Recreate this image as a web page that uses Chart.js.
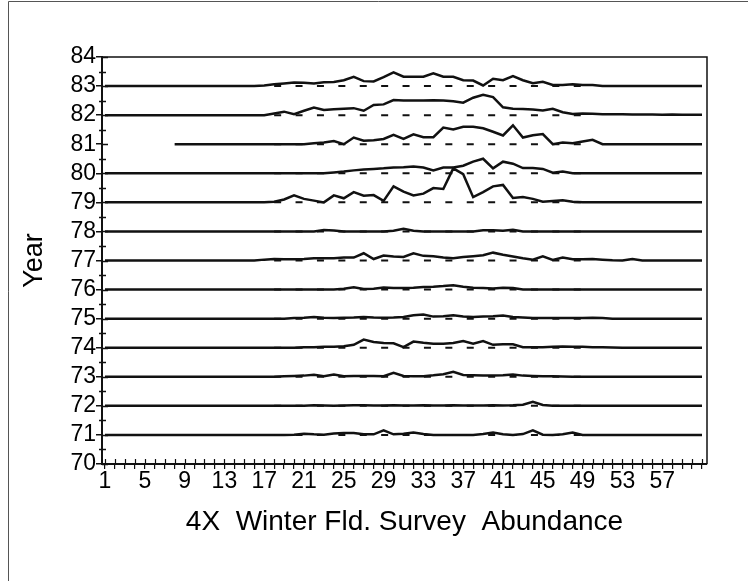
<!DOCTYPE html>
<html>
<head>
<meta charset="utf-8">
<title>4X Winter Fld. Survey Abundance</title>
<script src="https://cdn.jsdelivr.net/npm/chart.js@4/dist/chart.umd.min.js"></script>
<style>
  html, body { margin: 0; padding: 0; background: #fff; }
  #wrap { position: relative; width: 748px; height: 581px; }
</style>
</head>
<body>
<div id="wrap"><canvas id="chart" width="748" height="581"></canvas></div>
<script>
// Survey years, bottom to top
const years = [71, 72, 73, 74, 75, 76, 77, 78, 79, 80, 81, 82, 83];

// Abundance profile per year, length classes 1..61 (offset above the year's baseline)
const abundance71 = [
  0,0,0,0,0,0,0,0,0,0,
  0,0,0,0,0,0,0,0,0,0.01,
  0.04,0.02,0.01,0.05,0.07,0.07,0.02,0.02,0.16,0.02,
  0.04,0.08,0.03,0,0,0,0,0,0.03,0.08,
  0.02,0,0.03,0.16,0.01,0,0.02,0.08,0,0,
  0,0,0,0,0,0,0,0,0,0,
  0
];
const abundance72 = [
  0,0,0,0,0,0,0,0,0,0,
  0,0,0,0,0,0,0,0,0,0,
  0,0.02,0.01,0,0.01,0.02,0.02,0.01,0.01,0.02,
  0.01,0.01,0.02,0.01,0.01,0.02,0.01,0.01,0.01,0.02,
  0.01,0.02,0.04,0.14,0.03,0,0,0,0,0,
  0,0,0,0,0,0,0,0,0,0,
  0
];
const abundance73 = [
  0,0,0,0,0,0,0,0,0,0,
  0,0,0,0,0,0,0,0,0.02,0.03,
  0.04,0.07,0.02,0.08,0.02,0.03,0.03,0.03,0.02,0.14,
  0.03,0.02,0.02,0.05,0.09,0.17,0.06,0.05,0.04,0.04,
  0.05,0.08,0.04,0.03,0.02,0.02,0.01,0,0,0,
  0,0,0,0,0,0,0,0,0,0,
  0
];
const abundance74 = [
  0,0,0,0,0,0,0,0,0,0,
  0,0,0,0,0,0,0,0,0,0,
  0.02,0.02,0.03,0.03,0.05,0.1,0.28,0.2,0.16,0.15,
  0.02,0.21,0.17,0.14,0.14,0.16,0.23,0.14,0.23,0.1,
  0.12,0.12,0.02,0.02,0.02,0.03,0.04,0.03,0.03,0.02,
  0.02,0.01,0,0,0,0,0,0,0,0,
  0
];
const abundance75 = [
  0,0,0,0,0,0,0,0,0,0,
  0,0,0,0,0,0,0,0,0,0.02,
  0.03,0.06,0.03,0.02,0.03,0.04,0.06,0.04,0.03,0.04,
  0.06,0.12,0.14,0.07,0.08,0.12,0.07,0.06,0.07,0.08,
  0.11,0.06,0.04,0.02,0.02,0.02,0.02,0.02,0.02,0.03,
  0.02,0,0,0,0,0,0,0,0,0,
  0
];
const abundance76 = [
  0,0,0,0,0,0,0,0,0,0,
  0,0,0,0,0,0,0,0,0,0,
  0,0,0,0,0.03,0.08,0.02,0.03,0.07,0.05,
  0.05,0.06,0.09,0.1,0.12,0.15,0.1,0.06,0.05,0.04,
  0.06,0.05,0,0,0,0,0,0,0,0,
  0,0,0,0,0,0,0,0,0,0,
  0
];
const abundance77 = [
  0,0,0,0,0,0,0,0,0,0,
  0,0,0,0,0,0,0.03,0.05,0.04,0.04,
  0.05,0.08,0.08,0.08,0.1,0.1,0.25,0.05,0.17,0.14,
  0.12,0.25,0.16,0.15,0.1,0.08,0.12,0.15,0.18,0.27,
  0.2,0.14,0.08,0.03,0.14,0.02,0.1,0.04,0.04,0.05,
  0.03,0.01,0,0.05,0,0,0,0,0,0,
  0
];
const abundance78 = [
  0,0,0,0,0,0,0,0,0,0,
  0,0,0,0,0,0,0,0,0,0,
  0,0,0.05,0.03,0,0,0,0,0,0.02,
  0.09,0.02,0,0,0,0,0,0,0.04,0.04,
  0.02,0.06,0,0,0,0,0,0,0,0,
  0,0,0,0,0,0,0,0,0,0,
  0
];
const abundance79 = [
  0,0,0,0,0,0,0,0,0,0,
  0,0,0,0,0,0,0,0.02,0.1,0.24,
  0.12,0.06,0,0.24,0.14,0.35,0.23,0.25,0.05,0.55,
  0.37,0.24,0.3,0.49,0.46,1.17,0.97,0.18,0.35,0.55,
  0.6,0.15,0.18,0.12,0.02,0.05,0.07,0.02,0,0,
  0,0,0,0,0,0,0,0,0,0,
  0
];
const abundance80 = [
  0,0,0,0,0,0,0,0,0,0,
  0,0,0,0,0,0,0,0,0,0,
  0,0,0,0.03,0.06,0.1,0.13,0.15,0.17,0.2,
  0.21,0.23,0.2,0.1,0.2,0.2,0.26,0.4,0.5,0.17,
  0.4,0.33,0.18,0.18,0.15,0.02,0.06,0,0,0,
  0,0,0,0,0,0,0,0,0,0,
  0
];
const abundance81 = [
  null,null,null,null,null,null,null,0,0,0,
  0,0,0,0,0,0,0,0,0,0,
  0,0.03,0.06,0.11,0,0.23,0.12,0.14,0.18,0.32,
  0.18,0.34,0.24,0.24,0.57,0.51,0.6,0.6,0.55,0.43,
  0.3,0.65,0.23,0.31,0.35,0,0.06,0.03,0.09,0.15,
  0,0,0,0,0,0,0,0,0,0,
  0
];
const abundance82 = [
  0,0,0,0,0,0,0,0,0,0,
  0,0,0,0,0,0,0,0.06,0.12,0.03,
  0.15,0.26,0.18,0.2,0.22,0.24,0.15,0.35,0.37,0.52,
  0.5,0.5,0.5,0.51,0.5,0.48,0.43,0.6,0.7,0.62,
  0.27,0.22,0.21,0.19,0.16,0.22,0.1,0.04,0.06,0.05,
  0.03,0.03,0.03,0.02,0.02,0.02,0.01,0.02,0.01,0.01,
  0.01
];
const abundance83 = [
  0,0,0,0,0,0,0,0,0,0,
  0,0,0,0,0,0,0.02,0.06,0.09,0.12,
  0.11,0.09,0.13,0.14,0.2,0.32,0.17,0.16,0.31,0.47,
  0.32,0.32,0.32,0.44,0.32,0.32,0.2,0.19,0.02,0.25,
  0.2,0.34,0.2,0.1,0.15,0.04,0.04,0.06,0.04,0.04,
  0,0,0,0,0,0,0,0,0,0,
  0
];

const profiles = [abundance71, abundance72, abundance73, abundance74, abundance75, abundance76,
                  abundance77, abundance78, abundance79, abundance80, abundance81, abundance82, abundance83];

// Reference (dashed) baseline span along the length axis
const baselineFrom = 18;
const baselineTo = 50;

// Labelled length classes on the horizontal axis
const xTickLabels = [1, 5, 9, 13, 17, 21, 25, 29, 33, 37, 41, 45, 49, 53, 57];

const INK = '#111';
const FONT = 'Liberation Sans, Arial, Helvetica, sans-serif';

const datasets = [];
years.forEach((yr) => {
  datasets.push({
    label: 'base ' + yr,
    data: [{ x: baselineFrom, y: yr }, { x: baselineTo, y: yr }],
    borderColor: INK,
    borderWidth: 2,
    borderDash: [7, 14.4],
    pointRadius: 0,
    tension: 0,
    fill: false
  });
});
years.forEach((yr, k) => {
  datasets.push({
    label: String(yr),
    data: profiles[k].map((v, i) => ({ x: i + 1, y: v === null ? null : yr + v })),
    borderColor: INK,
    borderWidth: 2.5,
    pointRadius: 0,
    tension: 0,
    spanGaps: false,
    fill: false
  });
});

// Axis tick marks that cross the axis lines, minor half-year ticks, plot frame and page frame
const axisDecor = {
  id: 'axisDecor',
  afterDraw(chart) {
    const ctx = chart.ctx;
    const ca = chart.chartArea;
    const xs = chart.scales.x;
    const ys = chart.scales.y;
    ctx.save();
    ctx.strokeStyle = INK;
    // plot frame (top and right edges)
    ctx.lineWidth = 1.5;
    ctx.beginPath();
    ctx.moveTo(ca.left, ca.top);
    ctx.lineTo(ca.right, ca.top);
    ctx.lineTo(ca.right, ca.bottom);
    ctx.stroke();
    // inner halves of the year ticks
    ctx.lineWidth = 1.5;
    ctx.beginPath();
    for (let v = ys.min; v <= ys.max; v += 1) {
      const py = Math.round(ys.getPixelForValue(v)) + 0.5;
      ctx.moveTo(ca.left, py);
      ctx.lineTo(ca.left + 6, py);
    }
    // minor half-year ticks
    for (let v = ys.min + 0.5; v < ys.max; v += 1) {
      const py = Math.round(ys.getPixelForValue(v)) + 0.5;
      ctx.moveTo(ca.left - 3, py);
      ctx.lineTo(ca.left + 4, py);
    }
    ctx.stroke();
    // inner halves of the length-class ticks
    ctx.lineWidth = 1.2;
    ctx.beginPath();
    for (let v = 1; v <= 61; v += 1) {
      const px = Math.round(xs.getPixelForValue(v)) + 0.5;
      ctx.moveTo(px, ca.bottom);
      ctx.lineTo(px, ca.bottom - 5);
    }
    ctx.stroke();
    // page frame
    ctx.strokeStyle = '#555';
    ctx.lineWidth = 1;
    ctx.beginPath();
    ctx.moveTo(8.5, chart.height);
    ctx.lineTo(8.5, 1.5);
    ctx.lineTo(chart.width, 1.5);
    ctx.stroke();
    ctx.restore();
  }
};

new Chart(document.getElementById('chart'), {
  type: 'line',
  data: { datasets },
  options: {
    responsive: false,
    animation: false,
    events: [],
    layout: { padding: { top: 57, right: 41, left: 0, bottom: 37 } },
    plugins: { legend: { display: false }, tooltip: { enabled: false } },
    scales: {
      x: {
        type: 'linear',
        min: 0.7,
        max: 61.5,
        afterFit(scale) { scale.height = 80; },
        ticks: {
          stepSize: 1,
          autoSkip: false,
          includeBounds: false,
          maxRotation: 0,
          maxTicksLimit: 200,
          padding: -1,
          color: '#000',
          font: { family: FONT, size: 23 },
          callback: (v) => (xTickLabels.includes(v) ? String(v) : '')
        },
        grid: { drawOnChartArea: false, tickLength: 5, color: INK, lineWidth: 1.2 },
        border: { color: INK, width: 2 },
        title: {
          display: true,
          text: '4X  Winter Fld. Survey  Abundance',
          color: '#000',
          font: { family: FONT, size: 28 },
          padding: { top: 0, bottom: 5 }
        }
      },
      y: {
        type: 'linear',
        min: 70,
        max: 84,
        afterFit(scale) { scale.width = 102; },
        ticks: {
          stepSize: 1,
          autoSkip: false,
          padding: 0,
          color: '#000',
          font: { family: FONT, size: 23 }
        },
        grid: { drawOnChartArea: false, tickLength: 6, color: INK, lineWidth: 1.5 },
        border: { color: INK, width: 2 },
        title: {
          display: true,
          text: 'Year',
          color: '#000',
          font: { family: FONT, size: 27 },
          padding: { top: 18, bottom: 0 }
        }
      }
    }
  },
  plugins: [axisDecor]
});
</script>
</body>
</html>
